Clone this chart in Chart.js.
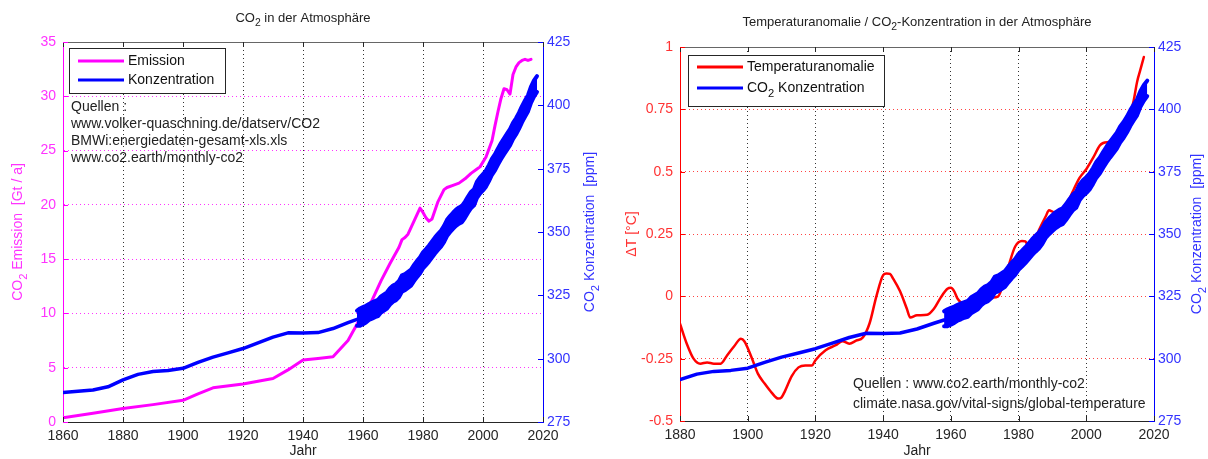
<!DOCTYPE html>
<html>
<head>
<meta charset="utf-8">
<script src="https://cdn.jsdelivr.net/npm/chart.js@4/dist/chart.umd.min.js"></script>
<style>
  html, body { margin: 0; padding: 0; background: #fff; }
  .box { position: absolute; top: 0; width: 604px; height: 459px; }
</style>
</head>
<body>
<div class="box" style="left:0"><canvas id="links"></canvas></div>
<div class="box" style="left:604px"><canvas id="rechts"></canvas></div>
<script>
const FONT = '"Liberation Sans", Arial, sans-serif';

// CO2 Emission weltweit [Gt / a]
const emiJahre = [1860, 1870, 1880, 1890, 1900, 1905, 1910, 1920, 1930, 1935, 1940, 1945, 1950, 1955, 1958, 1960,
    1963, 1966, 1969, 1972, 1973, 1974, 1975, 1977, 1979, 1980, 1981, 1982, 1983, 1985, 1987, 1988, 1990, 1992,
    1994, 1996, 1998, 1999, 2001, 2003, 2004, 2005, 2006, 2007, 2008, 2009, 2010, 2011, 2012, 2013, 2014, 2015, 2016];
const emission = [0.4, 0.8, 1.25, 1.6, 2.0, 2.6, 3.15, 3.5, 4.0, 4.8, 5.7, 5.85, 6.0, 7.5, 9.0, 10.0,
    11.2, 13.0, 14.6, 16.1, 16.8, 17.0, 17.3, 18.5, 19.7, 19.3, 18.8, 18.5, 18.7, 20.3, 21.4, 21.6, 21.8, 22.0,
    22.4, 22.9, 23.3, 23.5, 24.4, 25.9, 27.3, 28.6, 29.8, 30.7, 30.6, 30.2, 32.0, 32.7, 33.1, 33.3, 33.4, 33.3, 33.4];

// CO2 Konzentration aus Eisbohrkernen [ppm]
const eisJahre = [1860, 1865, 1870, 1875, 1880, 1885, 1890, 1895, 1900, 1905, 1910, 1915, 1920, 1925, 1930,
    1935, 1940, 1945, 1950, 1955, 1958];
const eisKonz = [286.6, 287.1, 287.6, 288.9, 291.6, 293.8, 294.9, 295.3, 296.2, 298.5, 300.6, 302.3, 304.0,
    306.2, 308.5, 310.2, 310.1, 310.3, 311.9, 314.2, 315.5];

// Mauna Loa Messung, Jahresspanne [ppm]
const mlJahre = [1958, 1959, 1960, 1961, 1962, 1963, 1964, 1965, 1966, 1967, 1968, 1969, 1970, 1971, 1972, 1973,
    1974, 1975, 1976, 1977, 1978, 1979, 1980, 1981, 1982, 1983, 1984, 1985, 1986, 1987, 1988, 1989, 1990, 1991,
    1992, 1993, 1994, 1995, 1996, 1997, 1998, 1999, 2000, 2001, 2002, 2003, 2004, 2005, 2006, 2007, 2008, 2009,
    2010, 2011, 2012, 2013, 2014, 2015, 2016, 2017, 2018];
const mlMax = [319.0, 319.8, 320.4, 320.9, 321.6, 322.2, 322.7, 323.2, 324.6, 325.4, 326.2, 327.8, 328.9, 329.5,
    330.7, 332.9, 333.4, 334.3, 335.2, 337.0, 338.6, 340.0, 342.0, 343.3, 344.7, 346.3, 347.9, 349.3, 350.6, 352.4,
    354.8, 356.3, 357.6, 358.8, 359.7, 360.3, 362.0, 364.0, 365.8, 366.9, 369.9, 371.6, 372.8, 374.3, 376.5, 379.0,
    380.7, 383.0, 385.1, 387.0, 388.8, 390.6, 393.1, 394.9, 397.1, 399.7, 401.9, 404.0, 407.4, 409.8, 411.5];
const mlMin = [313.0, 313.0, 313.6, 314.3, 315.3, 315.8, 316.4, 316.8, 318.2, 319.0, 319.8, 321.4, 322.5, 323.1,
    324.3, 326.5, 327.0, 327.9, 328.8, 330.6, 332.2, 333.6, 335.6, 336.9, 338.3, 339.9, 341.5, 342.9, 344.2, 346.0,
    348.4, 349.9, 351.2, 352.4, 353.3, 353.9, 355.6, 357.6, 359.4, 360.5, 363.5, 365.2, 366.4, 367.9, 370.1, 372.6,
    374.3, 376.6, 378.7, 380.6, 382.4, 384.2, 386.7, 388.5, 390.7, 393.3, 395.5, 397.6, 401.0, 403.4, 405.3];

// Temperaturanomalie [°C]
const tJahre = [1880, 1882, 1884, 1886, 1888, 1890, 1892, 1894, 1896, 1898, 1899, 1901, 1903, 1905, 1907, 1909,
    1910, 1911, 1913, 1915, 1917, 1919, 1920, 1923, 1926, 1928, 1930, 1932, 1934, 1936, 1938, 1940, 1941, 1942,
    1943, 1945, 1947, 1948, 1950, 1953, 1955, 1957, 1959, 1960, 1961, 1962, 1964, 1966, 1968, 1970, 1972, 1974,
    1975, 1977, 1979, 1981, 1982, 1983, 1984, 1986, 1988, 1989, 1990, 1992, 1993, 1994, 1996, 1998, 2000, 2002,
    2004, 2005, 2007, 2008, 2010, 2012, 2013, 2014, 2015, 2016, 2017];
const tAnomalie = [-0.11, -0.19, -0.25, -0.27, -0.265, -0.27, -0.27, -0.235, -0.2, -0.17, -0.18, -0.24, -0.31,
    -0.35, -0.385, -0.41, -0.405, -0.38, -0.32, -0.285, -0.277, -0.277, -0.256, -0.216, -0.196, -0.18, -0.19,
    -0.178, -0.165, -0.108, 0.0, 0.085, 0.092, 0.09, 0.07, 0.02, -0.05, -0.085, -0.076, -0.074, -0.05, -0.005,
    0.03, 0.034, 0.02, -0.01, -0.03, -0.02, -0.02, -0.01, -0.005, 0.0, 0.03, 0.12, 0.2, 0.222, 0.22, 0.2, 0.2,
    0.265, 0.32, 0.345, 0.34, 0.33, 0.34, 0.36, 0.42, 0.475, 0.51, 0.555, 0.605, 0.615, 0.62, 0.625, 0.65, 0.69,
    0.73, 0.785, 0.86, 0.91, 0.96];

// Achsenbeschriftung
const jahrTicksLinks = [1860, 1880, 1900, 1920, 1940, 1960, 1980, 2000, 2020];
const jahrTicksRechts = [1880, 1900, 1920, 1940, 1960, 1980, 2000, 2020];
const emiTicks = [0, 5, 10, 15, 20, 25, 30, 35];
const ppmTicks = [275, 300, 325, 350, 375, 400, 425];
const tTicks = [-0.5, -0.25, 0, 0.25, 0.5, 0.75, 1];

const punkte = (xs, ys) => xs.map((x, i) => ({ x: x, y: ys[i] }));

// Text mit Index, z.B. "CO_2"
function teile(text) {
    return text.split(/(_\w)/).filter(t => t).map(t => t[0] === '_' ? { t: t.slice(1), sub: true } : { t: t, sub: false });
}
function breite(ctx, tl, gr) {
    let w = 0;
    tl.forEach(p => { ctx.font = (p.sub ? gr * 0.8 : gr) + 'px ' + FONT; w += ctx.measureText(p.t).width; });
    return w;
}
function schreibe(ctx, text, x, y, gr, farbe, align) {
    const tl = teile(text);
    let sx = align === 'center' ? x - breite(ctx, tl, gr) / 2 : x;
    ctx.fillStyle = farbe;
    ctx.textAlign = 'left';
    ctx.textBaseline = 'middle';
    tl.forEach(p => {
        ctx.font = (p.sub ? gr * 0.8 : gr) + 'px ' + FONT;
        ctx.fillText(p.t, sx, p.sub ? y + gr * 0.4 : y);
        sx += ctx.measureText(p.t).width;
    });
}

const deko = {
    id: 'deko',
    afterDraw(chart, args, o) {
        const ctx = chart.ctx, a = chart.chartArea;
        ctx.save();
        // Rahmen oben
        ctx.strokeStyle = '#666';
        ctx.lineWidth = 1;
        ctx.beginPath();
        ctx.moveTo(a.left, a.top + 0.5);
        ctx.lineTo(a.right, a.top + 0.5);
        ctx.stroke();
        // Striche innen wie bei Matlab
        Object.values(chart.scales).forEach(s => {
            ctx.strokeStyle = s.options.border.color;
            s.ticks.forEach(t => {
                const p = Math.round(s.getPixelForValue(t.value)) + 0.5;
                ctx.beginPath();
                if (s.axis === 'x') {
                    ctx.moveTo(p, a.bottom); ctx.lineTo(p, a.bottom - 5);
                    ctx.moveTo(p, a.top); ctx.lineTo(p, a.top + 5);
                } else if (s.position === 'left') {
                    ctx.moveTo(a.left, p); ctx.lineTo(a.left + 5, p);
                } else {
                    ctx.moveTo(a.right, p); ctx.lineTo(a.right - 5, p);
                }
                ctx.stroke();
            });
        });
        const mx = (a.left + a.right) / 2, my = (a.top + a.bottom) / 2;
        schreibe(ctx, o.titel, mx, o.titelY, 13, '#222', 'center');
        schreibe(ctx, 'Jahr', mx, 451, 14, '#222', 'center');
        [[o.yLinks, o.yLinksX, o.farbeLinks], [o.yRechts, o.yRechtsX, '#3333ff']].forEach(([txt, x, f]) => {
            ctx.save();
            ctx.translate(x, my);
            ctx.rotate(-Math.PI / 2);
            schreibe(ctx, txt, 0, 0, 14, f, 'center');
            ctx.restore();
        });
        // Legende
        const L = o.legende;
        ctx.fillStyle = '#fff';
        ctx.fillRect(L.x, L.y, L.w, L.h);
        ctx.strokeStyle = '#262626';
        ctx.lineWidth = 1;
        ctx.strokeRect(L.x + 0.5, L.y + 0.5, L.w, L.h);
        L.eintraege.forEach((e, i) => {
            const y = L.y + L.erste + i * L.abstand;
            ctx.strokeStyle = e.farbe;
            ctx.lineWidth = 3;
            ctx.beginPath();
            ctx.moveTo(L.x + 9, y);
            ctx.lineTo(L.x + 55, y);
            ctx.stroke();
            schreibe(ctx, e.text, L.x + 59, y, 14, '#111', 'left');
        });
        // Quellen
        o.quellen.forEach(q => schreibe(ctx, q[0], q[1], q[2], 14, '#222', 'left'));
        ctx.restore();
    }
};

function achse(pos, min, max, tickWerte, farbe, schrift, breiteAchse, grid, pad) {
    return {
        type: 'linear', position: pos, min: min, max: max,
        afterBuildTicks: s => { s.ticks = tickWerte.map(v => ({ value: v })); },
        afterFit: s => { s.width = breiteAchse; },
        ticks: { color: schrift, padding: pad, font: { family: FONT, size: 14 }, callback: v => String(v) },
        border: { color: farbe, width: 1, dash: [1, 3] },
        grid: grid ? { color: grid, drawTicks: false } : { drawOnChartArea: false, drawTicks: false }
    };
}

function xAchse(min, max, tickWerte, hoehe) {
    return {
        type: 'linear', min: min, max: max,
        afterBuildTicks: s => { s.ticks = tickWerte.map(v => ({ value: v })); },
        afterFit: s => { s.height = hoehe; },
        ticks: { color: '#262626', padding: 6, maxRotation: 0, font: { family: FONT, size: 14 }, callback: v => String(v) },
        border: { color: '#262626', width: 1, dash: [1, 3] },
        grid: { color: '#333', drawTicks: false }
    };
}

const band = (yAxis) => [
    { data: punkte(mlJahre, mlMax), yAxisID: yAxis, borderColor: '#0000ff', borderWidth: 4, fill: false, order: 0 },
    { data: punkte(mlJahre, mlMin), yAxisID: yAxis, borderColor: '#0000ff', borderWidth: 4, backgroundColor: '#0000ff', fill: '-1', order: 1 },
    { data: punkte(eisJahre, eisKonz), yAxisID: yAxis, borderColor: '#0000ff', borderWidth: 3.5, fill: false, order: 2 }
];

const basis = {
    responsive: true,
    maintainAspectRatio: false,
    animation: false,
    parsing: false,
    elements: { point: { radius: 0 }, line: { tension: 0, borderJoinStyle: 'round', borderCapStyle: 'round' } },
};

new Chart(document.getElementById('links'), {
    type: 'line',
    data: {
        datasets: band('yR').concat([
            { data: punkte(emiJahre, emission), yAxisID: 'y', borderColor: '#ff00ff', borderWidth: 3, fill: false, order: 3 }
        ])
    },
    options: Object.assign({}, basis, {
        layout: { padding: { top: 42, left: 0, right: 0, bottom: 0 } },
        scales: {
            x: xAchse(1860, 2020, jahrTicksLinks, 37),
            y: achse('left', 0, 35, emiTicks, '#ff00ff', '#ff33ff', 63, '#ff33ff', 7),
            yR: achse('right', 275, 425, ppmTicks, '#0000ff', '#3333ff', 61, null, 4)
        },
        plugins: {
            legend: { display: false },
            tooltip: { enabled: false },
            deko: {
                titel: 'CO_2 in der Atmosphäre', titelY: 18,
                yLinks: 'CO_2 Emission  [Gt / a]', yLinksX: 18, farbeLinks: '#ff33ff',
                yRechts: 'CO_2 Konzentration  [ppm]', yRechtsX: 590,
                legende: {
                    x: 69, y: 48, w: 156, h: 45, erste: 13, abstand: 19,
                    eintraege: [{ text: 'Emission', farbe: '#ff00ff' }, { text: 'Konzentration', farbe: '#0000ff' }]
                },
                quellen: [
                    ['Quellen :', 71, 107],
                    ['www.volker-quaschning.de/datserv/CO2', 71, 124],
                    ['BMWi:energiedaten-gesamt-xls.xls', 71, 141],
                    ['www.co2.earth/monthly-co2', 71, 158]
                ]
            }
        }
    }),
    plugins: [deko]
});

new Chart(document.getElementById('rechts'), {
    type: 'line',
    data: {
        datasets: band('yR').concat([
            { data: punkte(tJahre, tAnomalie), yAxisID: 'y', borderColor: '#ff0000', borderWidth: 2.5, fill: false,
              cubicInterpolationMode: 'monotone', order: 3 }
        ])
    },
    options: Object.assign({}, basis, {
        layout: { padding: { top: 47, left: 0, right: 0, bottom: 0 } },
        scales: {
            x: xAchse(1880, 2020, jahrTicksRechts, 38),
            y: achse('left', -0.5, 1, tTicks, '#ff0000', '#ff3333', 76, '#ff4444', 7),
            yR: achse('right', 275, 425, ppmTicks, '#0000ff', '#3333ff', 54, null, 4)
        },
        plugins: {
            legend: { display: false },
            tooltip: { enabled: false },
            deko: {
                titel: 'Temperaturanomalie / CO_2-Konzentration in der Atmosphäre', titelY: 22,
                yLinks: 'ΔT [°C]', yLinksX: 28, farbeLinks: '#ff3333',
                yRechts: 'CO_2 Konzentration  [ppm]', yRechtsX: 593,
                legende: {
                    x: 84, y: 55, w: 196, h: 51, erste: 12, abstand: 21,
                    eintraege: [{ text: 'Temperaturanomalie', farbe: '#ff0000' }, { text: 'CO_2 Konzentration', farbe: '#0000ff' }]
                },
                quellen: [
                    ['Quellen : www.co2.earth/monthly-co2', 249, 384],
                    ['climate.nasa.gov/vital-signs/global-temperature', 249, 404]
                ]
            }
        }
    }),
    plugins: [deko]
});
</script>
</body>
</html>
